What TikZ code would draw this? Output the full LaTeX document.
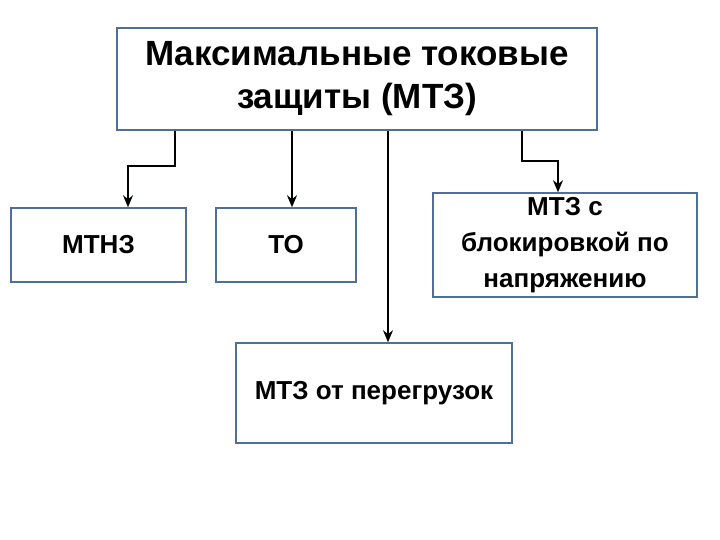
\documentclass[tikz,border=0pt]{standalone}
\usepackage{fontspec}
\setmainfont{Liberation Sans}
\usetikzlibrary{arrows.meta}
\definecolor{bord}{HTML}{4F6F96}
\begin{document}
\begin{tikzpicture}[x=1pt,y=-1pt,
 box/.style={draw=bord,line width=1.5pt,align=center,inner sep=0pt,font=\bfseries\fontsize{26}{36}\selectfont},
 conn/.style={line width=2.2pt,-{Stealth[length=12pt,width=10pt]}}]
\useasboundingbox (0,0) rectangle (720,540);
\node[box,minimum width=480,minimum height=102,font=\bfseries\fontsize{35}{43}\selectfont] (top) at (357,79) {Максимальные токовые\\защиты (МТЗ)};
\node[box,minimum width=175,minimum height=74] (a) at (98.5,245) {МТНЗ};
\node[box,minimum width=140,minimum height=74] (b) at (286,245) {ТО};
\node[box,minimum width=264,minimum height=104] (c) at (565,245) {МТЗ с\\блокировкой по\\напряжению};
\node[box,minimum width=276,minimum height=100] (d) at (374,393) {МТЗ от перегрузок};
\draw[conn] (top.south -| 175,0) -- (175,166) -- (128,166) -- (a.north -| 128,0);
\draw[conn] (top.south -| 292,0) -- (b.north -| 292,0);
\draw[conn] (top.south -| 388,0) -- (d.north -| 388,0);
\draw[conn] (top.south -| 522,0) -- (522,161) -- (558,161) -- (c.north -| 558,0);
\end{tikzpicture}
\end{document}
